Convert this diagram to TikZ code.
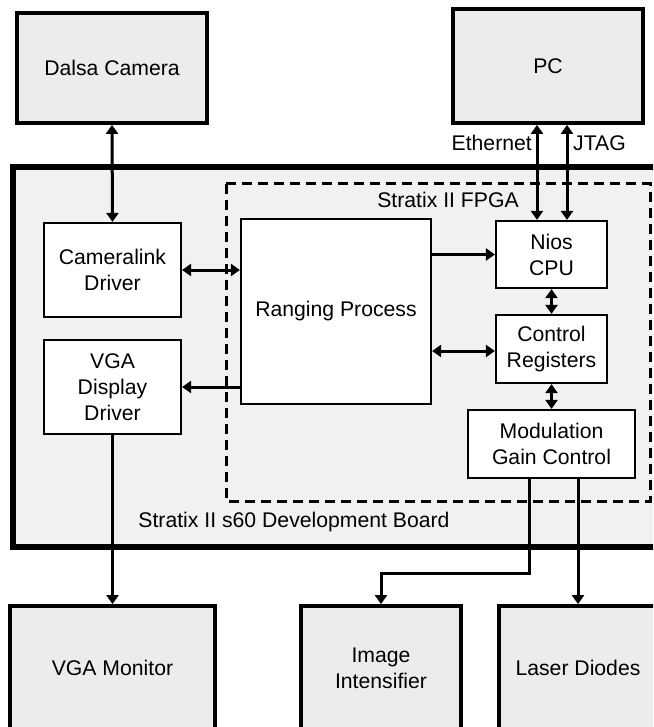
\documentclass[tikz,border=0pt]{standalone}
\usepackage{fontspec}
\setmainfont{Liberation Sans}
\usetikzlibrary{arrows.meta,calc}
\definecolor{outerfill}{HTML}{ECECEC}
\definecolor{boardfill}{HTML}{F1F1F1}
\tikzset{
  outerbox/.style={draw=black, line width=3.8pt, fill=outerfill, inner sep=0pt, align=center, font=\fsz},
  innerbox/.style={draw=black, line width=2.2pt, fill=white, inner sep=0pt, align=center, font=\fsz},
  conn/.style={line width=3pt, -{Triangle[length=9pt,width=12pt]}},
  biconn/.style={line width=3pt, {Triangle[length=9pt,width=12pt]}-{Triangle[length=9pt,width=12pt]}},
  lbl/.style={inner sep=0pt, font=\fsz}
}
\newcommand{\fsz}{\fontsize{21.2}{26}\selectfont}
\begin{document}
\begin{tikzpicture}[x=1pt,y=-1pt]
\useasboundingbox (0,0) rectangle (653,727);
\begin{scope}
\clip (0,0) rectangle (653,727);
% board
\draw[line width=5.5pt, fill=boardfill] (13,167) rectangle (670,547);
\node[lbl] (boardlbl) at (294,522) {Stratix II s60 Development Board};
% fpga
\draw[line width=3pt, dash pattern=on 10pt off 6pt] (226,184) rectangle (650,501);
\node[lbl] (fpgalbl) at (448,200) {Stratix II FPGA};
% outer boxes
\node[outerbox, minimum width=190pt, minimum height=110pt] (dalsa) at (112,68) {Dalsa Camera};
\node[outerbox, minimum width=190pt, minimum height=114pt] (pc) at (548,66) {PC};
\node[outerbox, minimum width=205pt, minimum height=124pt] (vgamon) at (112.5,668) {VGA Monitor};
\node[outerbox, minimum width=160pt, minimum height=124pt] (intens) at (381,668) {Image\\Intensifier};
\node[outerbox, minimum width=158pt, minimum height=124pt] (laser) at (578,668) {Laser Diodes};
% inner boxes
\node[innerbox, minimum width=137pt, minimum height=94pt] (camlink) at (112.5,270) {Cameralink\\Driver};
\node[innerbox, minimum width=137pt, minimum height=94pt] (vgadrv) at (112.5,387) {VGA\\Display\\Driver};
\node[innerbox, minimum width=190pt, minimum height=185pt] (ranging) at (336,311.5) {Ranging Process};
\node[innerbox, minimum width=111pt, minimum height=67pt] (nios) at (551.5,254.5) {Nios\\CPU};
\node[innerbox, minimum width=111pt, minimum height=68pt] (ctrl) at (551.5,349) {Control\\Registers};
\node[innerbox, minimum width=167pt, minimum height=68pt] (mod) at (551.5,444) {Modulation\\Gain Control};
% helper coordinates
\coordinate (xeth) at (537,0);
\coordinate (xjtag) at (567,0);
\coordinate (xmodA) at (529,0);
\coordinate (xmodB) at (578,0);
\coordinate (yjog) at (0,573);
\coordinate (yrc) at (0,351);
% labels
\node[lbl, anchor=east] (ethlbl) at (532,143) {Ethernet};
\node[lbl, anchor=west] (jtaglbl) at (573,143) {JTAG};
% connectors
\draw[biconn] (dalsa.south) -- (camlink.north);
\draw[biconn] (pc.south -| xeth) -- (nios.north -| xeth);
\draw[biconn] (pc.south -| xjtag) -- (nios.north -| xjtag);
\draw[biconn] (camlink.east) -- (ranging.west |- camlink.east);
\draw[conn] (ranging.west |- vgadrv.east) -- (vgadrv.east);
\draw[conn] (ranging.east |- nios.west) -- (nios.west);
\draw[biconn] (ranging.east |- yrc) -- (ctrl.west |- yrc);
\draw[biconn] (nios.south) -- (ctrl.north);
\draw[biconn] (ctrl.south) -- (mod.north);
\draw[conn] (vgadrv.south) -- (vgamon.north);
\draw[conn] (mod.south -| xmodA) -- (xmodA |- yjog) -- (intens.north |- yjog) -- (intens.north);
\draw[conn] (mod.south -| xmodB) -- (laser.north -| xmodB);
\end{scope}
\end{tikzpicture}
\end{document}
